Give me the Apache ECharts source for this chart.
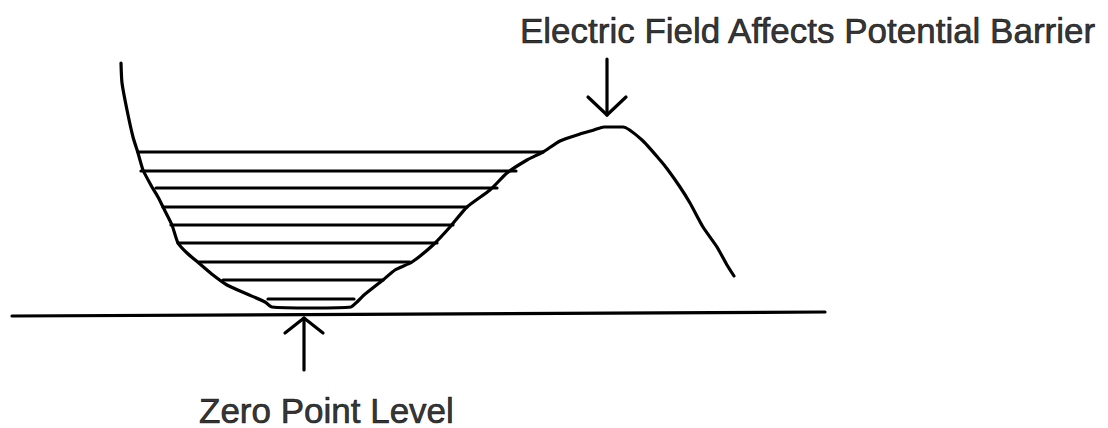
<!DOCTYPE html>
<html>
<head>
<meta charset="utf-8">
<script src="https://cdn.jsdelivr.net/npm/echarts@6/dist/echarts.min.js"></script>
<style>
    html, body { margin: 0; padding: 0; background: #fff; }
    #chart { width: 1108px; height: 428px; }
</style>
</head>
<body>
<div id="chart"></div>
<script>
// x = position, y = energy (zero at the baseline)
var wellCurve = [
    [121, 251], [122, 231], [127, 204], [133, 177], [138, 161], [143, 144],
    [152, 127], [158, 117], [163, 107], [172, 89], [178, 71], [187, 61],
    [200, 50], [213, 39], [227, 29], [247, 20], [265, 12], [272, 7],
    [312, 6], [351, 7], [357, 12], [364, 19], [383, 34], [395, 44],
    [412, 52], [433, 69], [450, 87], [467, 107], [490, 124], [507, 141],
    [527, 154], [543, 162], [560, 173], [580, 180], [594, 184], [604, 187],
    [623, 187], [642, 174], [660, 154], [668, 144], [680, 127], [690, 111],
    [703, 87], [717, 67], [727, 49], [734, 38]
];

// energy levels: [energy, x start, x end]
var levels = [
    [162, 138, 543],
    [143, 141, 516],
    [126, 156, 497],
    [107, 163, 467],
    [89, 171, 453],
    [71, 178, 437],
    [52, 199, 410],
    [34, 223, 383],
    [15, 268, 354]
];

var baseLine = [[12, -2], [825, 2]];

// arrows: shaft and open head
var barrierArrow = { shaft: [[607, 255], [607, 199]], head: [[588, 217], [607, 199], [626, 217]] };
var zeroArrow = { shaft: [[304, -4], [304, -56]], head: [[285, -19], [304, -4], [323, -19]] };

var labelTexts = ['Electric Field Affects Potential Barrier', 'Zero Point Level'];
var labelPos = [[520, 284], [199, -96]];

var ink = '#000';

var dom = document.getElementById('chart');
var myChart = echarts.init(dom, null, {renderer: 'svg'});
var option = null;

var segs = [];
for (var i = 0; i < levels.length; i++) {
    segs.push({coords: [[levels[i][1], levels[i][0]], [levels[i][2], levels[i][0]]]});
}
segs.push({coords: baseLine});
segs.push({coords: barrierArrow.shaft});
segs.push({coords: barrierArrow.head});
segs.push({coords: zeroArrow.shaft});
segs.push({coords: zeroArrow.head});

var labelData = [];
for (var j = 0; j < labelTexts.length; j++) {
    labelData.push({value: labelPos[j], name: labelTexts[j]});
}

option = {
    animation: false,
    backgroundColor: '#fff',
    grid: {left: 0, right: 0, top: 0, bottom: 0},
    xAxis: {type: 'value', min: 0, max: 1108, show: false},
    yAxis: {type: 'value', min: -114, max: 314, show: false},
    series: [
        {
            type: 'line',
            data: wellCurve,
            smooth: 0.2,
            symbol: 'none',
            lineStyle: {color: ink, width: 3.2, cap: 'round', join: 'round'}
        },
        {
            type: 'lines',
            coordinateSystem: 'cartesian2d',
            polyline: true,
            data: segs,
            lineStyle: {color: ink, width: 3.2, opacity: 1, cap: 'round', join: 'round'}
        },
        {
            type: 'scatter',
            symbolSize: 0,
            data: labelData,
            label: {
                show: true,
                position: 'inside',
                align: 'left',
                verticalAlign: 'middle',
                formatter: '{b}',
                color: ink,
                fontSize: 35,
                lineHeight: 28,
                textBorderColor: ink,
                textBorderWidth: 0.7,
                fontFamily: 'Liberation Sans, Arial, sans-serif'
            }
        }
    ]
};

if (option && typeof option === "object") {
    myChart.setOption(option, true);
}
</script>
</body>
</html>
